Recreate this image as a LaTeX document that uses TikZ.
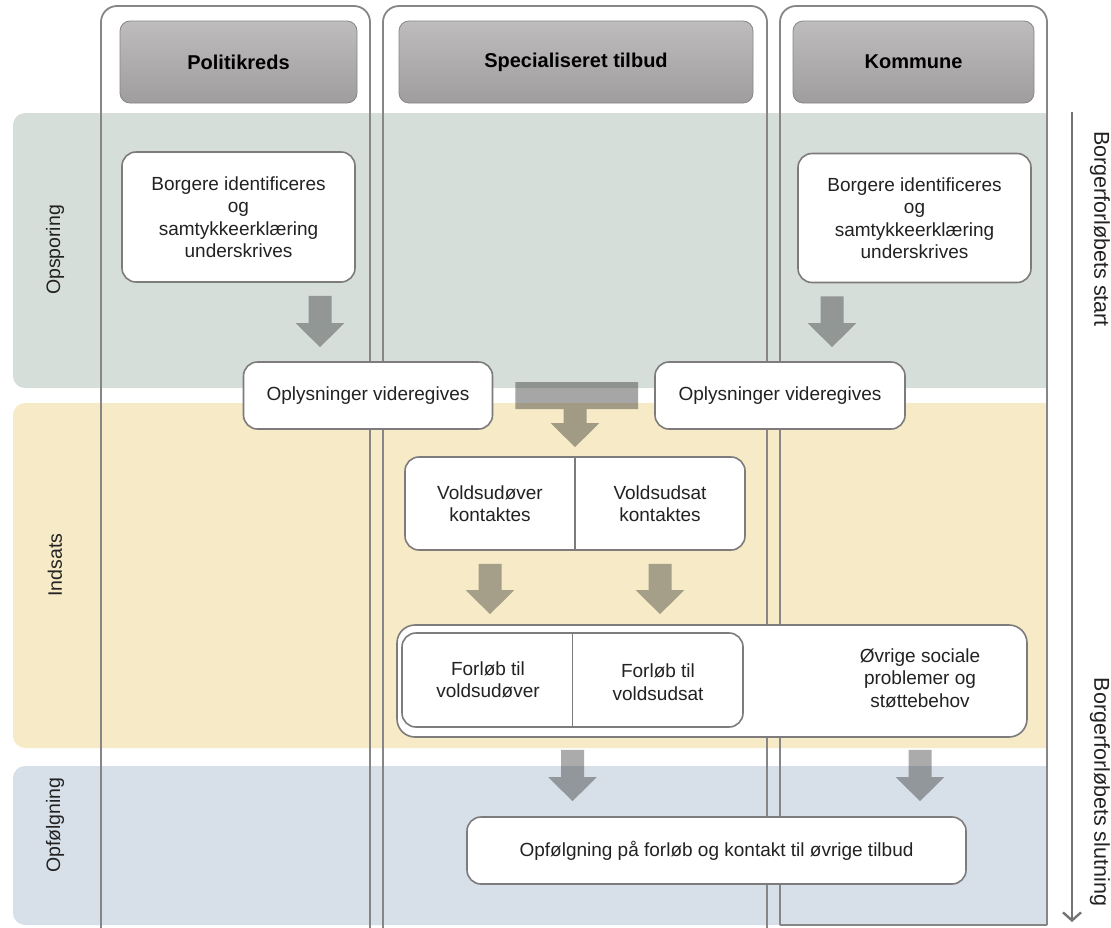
\documentclass[tikz,border=0pt]{standalone}
\usepackage{fontspec}
\setmainfont{Liberation Sans}
\usepackage{tikz}
\usetikzlibrary{arrows.meta,calc}
\tikzset{>=latex}
\definecolor{bandgreen}{RGB}{214,222,218}
\definecolor{bandyellow}{RGB}{247,234,198}
\definecolor{bandblue}{RGB}{215,223,232}
\definecolor{laneline}{RGB}{136,133,134}
\definecolor{boxline}{RGB}{125,123,124}
\definecolor{headtop}{RGB}{190,188,189}
\definecolor{headbot}{RGB}{160,157,158}
\definecolor{txt}{RGB}{34,34,34}
\definecolor{arrowgrey}{RGB}{44,44,44}
\definecolor{axisgrey}{RGB}{115,115,115}
\tikzset{
  lane/.style={draw=laneline, line width=1.8pt, rounded corners=16pt},
  lanehead/.style={draw=headbot!85!black, line width=0.8pt, rounded corners=10pt,
    top color=headtop, bottom color=headbot, minimum height=82pt,
    font=\fontsize{20}{24}\selectfont\bfseries, text=black},
  stepbox/.style={draw=boxline, fill=white, line width=1.6pt, rounded corners=14pt,
    align=center, text=txt, font=\fontsize{19}{22.5}\selectfont, inner sep=0pt},
  plain/.style={align=center, text=txt, font=\fontsize{19}{22.5}\selectfont, inner sep=0pt},
  phase/.style={rotate=90, text=txt, font=\fontsize{19.5}{23}\selectfont},
  timeline/.style={rotate=-90, text=txt, font=\fontsize{21.5}{25}\selectfont},
  flow/.style={line width=23pt, arrowgrey, -{Triangle[width=47pt,length=24pt]}},
}

\begin{document}
\begin{tikzpicture}[x=1pt,y=-1pt]
  \useasboundingbox (0,0) rectangle (1111,927);
  % faser (baggrund)
  \foreach \ytop/\ybot/\col in {113/388/bandgreen,403/748/bandyellow,766/925/bandblue}
    \fill[\col] (1047,\ytop) -- (25,\ytop) arc[start angle=270,end angle=180,radius=12]
      -- (13,\ybot-12) arc[start angle=180,end angle=90,radius=12] -- (1047,\ybot) -- cycle;
  \node[phase] (fOps) at (55,250) {Opsporing};
  \node[phase] (fInd) at (55,565) {Indsats};
  \node[phase] (fOpf) at (55,825) {Opfølgning};

  % spor
  \draw[lane] (101,930) -- (101,6) -- (370,6) -- (370,930);
  \draw[lane] (383,930) -- (383,6) -- (767,6) -- (767,930);
  \draw[lane] (780,925) -- (780,6) -- (1047,6) -- (1047,925);
  \draw[laneline, line width=1.8pt] (780,925) -- (1047,925);

  \node[lanehead, minimum width=237pt] (hPol) at (238.5,62) {Politikreds};
  \node[lanehead, minimum width=354pt] (hSpec) at (576,62) {Specialiseret tilbud};
  \node[lanehead, minimum width=241pt] (hKom) at (913.5,62) {Kommune};

  % trin
  \node[stepbox, minimum width=233pt, minimum height=130pt] (borgP) at (238.5,217)
    {Borgere identificeres\\og\\samtykkeerklæring\\underskrives};
  \node[stepbox, minimum width=233pt, minimum height=129pt] (borgK) at (914.5,218)
    {Borgere identificeres\\og\\samtykkeerklæring\\underskrives};
  \node[stepbox, minimum width=249pt, minimum height=67pt] (oplL) at (368,395.5) {Oplysninger videregives};
  \node[stepbox, minimum width=250pt, minimum height=67pt] (oplR) at (780,395.5) {Oplysninger videregives};

  \node[stepbox, minimum width=340pt, minimum height=93pt] (volds) at (575,503.5) {};
  \draw[boxline, line width=1.6pt] (volds.north) -- (volds.south);
  \node[plain] (voldsU) at (490,503.5) {Voldsudøver\\kontaktes};
  \node[plain] (voldsS) at (660,503.5) {Voldsudsat\\kontaktes};

  \node[stepbox, rounded corners=18pt, minimum width=630pt, minimum height=112pt] (bigbox) at (712,681) {};
  \node[stepbox, minimum width=341pt, minimum height=94pt] (inner) at (572.5,680) {};
  \draw[boxline, line width=1.6pt] (inner.north) -- (inner.south);
  \node[plain] (forlU) at (488,680) {Forløb til\\voldsudøver};
  \node[plain] (forlS) at (658,682) {Forløb til\\voldsudsat};
  \node[plain] (ovrige) at (920,678) {Øvrige sociale\\problemer og\\støttebehov};

  \node[stepbox, minimum width=499pt, minimum height=67pt] (opf) at (716.5,850.5)
    {Opfølgning på forløb og kontakt til øvrige tilbud};

  % pile
  \coordinate (aP) at (320,0);
  \coordinate (aK) at (832,0);
  \begin{scope}[transparency group, opacity=0.4]
    \draw[flow, shorten <=13pt, shorten >=14pt] (borgP.south -| aP) -- (oplL.north -| aP);
    \draw[flow, shorten <=13pt, shorten >=14pt] (borgK.south -| aK) -- (oplR.north -| aK);
    \draw[flow, shorten <=13pt, shorten >=10pt] (voldsU |- volds.south) -- (voldsU |- bigbox.north);
    \draw[flow, shorten <=13pt, shorten >=10pt] (voldsS |- volds.south) -- (voldsS |- bigbox.north);
    \draw[flow, shorten <=12pt, shorten >=15pt] (inner |- bigbox.south) -- (inner |- opf.north);
    \draw[flow, shorten <=12pt, shorten >=15pt] (ovrige |- bigbox.south) -- (ovrige |- opf.north);
  \end{scope}
  \begin{scope}[transparency group, opacity=0.42]
    \draw[arrowgrey, line width=27pt] ([xshift=22pt]oplL.east) -- ([xshift=-16pt]oplR.west |- oplL.east);
    \draw[flow, shorten >=9pt] (volds.north |- oplL.east) -- (volds.north);
  \end{scope}

  % tidslinje
  \coordinate (tTop) at (1072,112);
  \coordinate (tBot) at (1072,922);
  \draw[axisgrey, line width=2.4pt, -{Straight Barb[length=8pt,width=18pt]}] (tTop) -- (tBot);
  \node[timeline] (tStart) at (1100,229) {Borgerforløbets start};
  \node[timeline] (tSlut) at (1100,792) {Borgerforløbets slutning};
\end{tikzpicture}
\end{document}
